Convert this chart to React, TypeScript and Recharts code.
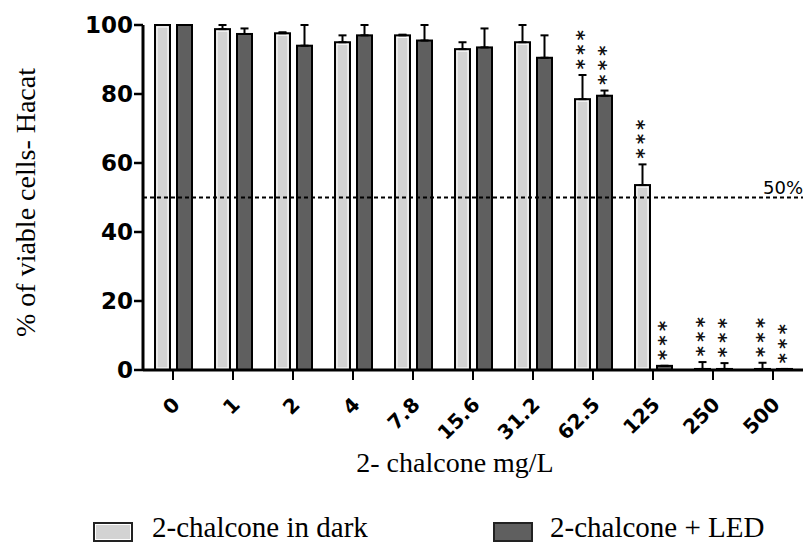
import { BarChart, Bar, XAxis, YAxis, ErrorBar, ReferenceLine } from 'recharts';

const CATEGORIES = ['0', '1', '2', '4', '7.8', '15.6', '31.2', '62.5', '125', '250', '500'];
const DARK_MEAN = [100, 98.8, 97.6, 95, 97, 93, 95, 78.5, 53.6, 0.3, 0.3];
const DARK_SD = [0, 1.2, 0.3, 2, 0.2, 2, 5, 7, 6, 2, 1.8];
const DARK_SIG = [false, false, false, false, false, false, false, true, true, true, true];
const LED_MEAN = [100, 97.4, 94, 97, 95.5, 93.5, 90.5, 79.5, 1.2, 0.3, 0.3];
const LED_SD = [0, 1.6, 6, 3, 4.5, 5.5, 6.5, 1.5, 0, 1.7, 0];
const LED_SIG = [false, false, false, false, false, false, false, true, true, true, true];
const Y_TICKS = [0, 20, 40, 60, 80, 100];

const data = CATEGORIES.map((cat, i) => ({
  cat,
  dark: DARK_MEAN[i],
  darkErr: [0, DARK_SD[i]],
  led: LED_MEAN[i],
  ledErr: [0, LED_SD[i]],
}));

const SERIF = '"Liberation Serif", "Times New Roman", serif';
const SANS = '"DejaVu Sans", sans-serif';
const LIGHT = '#d3d3d3';
const DARK = '#5f5f5f';

function makeShape(key: 'dark' | 'led', sd: number[], sig: boolean[], fill: string, inner: boolean) {
  return (props: any) => {
    const { x, y, width, height, index, payload } = props;
    const v = payload[key];
    const ppu = v > 0 ? height / v : 3.45;
    const top = y - sd[index] * ppu;
    const cx = x + width / 2;
    return (
      <g>
        <rect x={x} y={y} width={width} height={height} fill={fill} stroke="#000" strokeWidth={2} />
        {inner && height > 6 && (
          <rect x={x + 2} y={y + 2} width={width - 4} height={height - 4} fill="none" stroke="#fff" strokeWidth={1} />
        )}
        {sig[index] && (
          // stacked asterisks, written top-to-bottom
          <g transform={`translate(${cx - 12},${top - 45}) rotate(90)`}>
            <text x={0} y={0} fontFamily={SANS} fontWeight="bold" fontSize={20} letterSpacing={4} fill="#111">
              ***
            </text>
          </g>
        )}
      </g>
    );
  };
}

const XTick = (props: any) => {
  const { x, payload } = props;
  return (
    <g transform={`translate(${x + 8},406) rotate(-45)`}>
      <text x={0} y={0} textAnchor="end" fontFamily={SANS} fontWeight="bold" fontSize={20} fill="#000">
        {payload.value}
      </text>
    </g>
  );
};

export default function App() {
  return (
    <div style={{ position: 'absolute', left: 0, top: 0, width: 809, height: 544, background: '#fff' }}>
      <BarChart
        width={809}
        height={544}
        data={data}
        margin={{ top: 25, right: 6, left: 0, bottom: 74 }}
        barSize={15}
        barGap={7}
      >
        <XAxis
          dataKey="cat"
          interval={0}
          height={100}
          axisLine={{ stroke: '#000', strokeWidth: 3 }}
          tickLine={{ stroke: '#000', strokeWidth: 2 }}
          tickSize={10}
          tick={<XTick />}
          label={(p: any) => {
            const vb = p.viewBox;
            return (
              <text x={vb.x + vb.width / 2 - 18} y={vb.y + 102} textAnchor="middle" fontFamily={SERIF} fontSize={28} fill="#000">
                2- chalcone mg/L
              </text>
            );
          }}
        />
        <YAxis
          domain={[0, 100]}
          ticks={Y_TICKS}
          width={143}
          axisLine={{ stroke: '#000', strokeWidth: 3 }}
          tickLine={{ stroke: '#000', strokeWidth: 2.5 }}
          tickSize={9}
          tickMargin={1}
          tick={{ fontFamily: SANS, fontWeight: 'bold', fontSize: 23, fill: '#000' }}
          label={(p: any) => {
            const vb = p.viewBox;
            const cx = vb.x + 25;
            const cy = vb.y + vb.height / 2 + 5;
            return (
              <text x={cx} y={cy} transform={`rotate(-90, ${cx}, ${cy})`} textAnchor="middle" dominantBaseline="central" fontFamily={SERIF} fontSize={28} fill="#000">
                % of viable cells- Hacat
              </text>
            );
          }}
        />
        <ReferenceLine
          y={50}
          stroke="#000"
          strokeWidth={2}
          strokeDasharray="4 3"
          label={(p: any) => {
            const vb = p.viewBox;
            return (
              <text x={vb.x + vb.width} y={vb.y - 4} textAnchor="end" fontFamily={SANS} fontSize={18} fill="#000">
                50%
              </text>
            );
          }}
        />
        <Bar dataKey="dark" isAnimationActive={false} shape={makeShape('dark', DARK_SD, DARK_SIG, LIGHT, true)}>
          <ErrorBar dataKey="darkErr" direction="y" width={4} stroke="#000" strokeWidth={2} />
        </Bar>
        <Bar dataKey="led" isAnimationActive={false} shape={makeShape('led', LED_SD, LED_SIG, DARK, false)}>
          <ErrorBar dataKey="ledErr" direction="y" width={4} stroke="#000" strokeWidth={2} />
        </Bar>
      </BarChart>
      <div style={{ position: 'absolute', left: 93, top: 522, width: 36, height: 16, border: '2px solid #222', background: LIGHT, boxShadow: 'inset 0 0 0 1px #fff' }} />
      <div style={{ position: 'absolute', left: 152, top: 510, fontFamily: SERIF, fontSize: 29, lineHeight: '34px', whiteSpace: 'nowrap' }}>
        2-chalcone in dark
      </div>
      <div style={{ position: 'absolute', left: 493, top: 522, width: 36, height: 16, border: '2px solid #222', background: DARK }} />
      <div style={{ position: 'absolute', left: 550, top: 510, fontFamily: SERIF, fontSize: 29, lineHeight: '34px', whiteSpace: 'nowrap' }}>
        2-chalcone + LED
      </div>
    </div>
  );
}
